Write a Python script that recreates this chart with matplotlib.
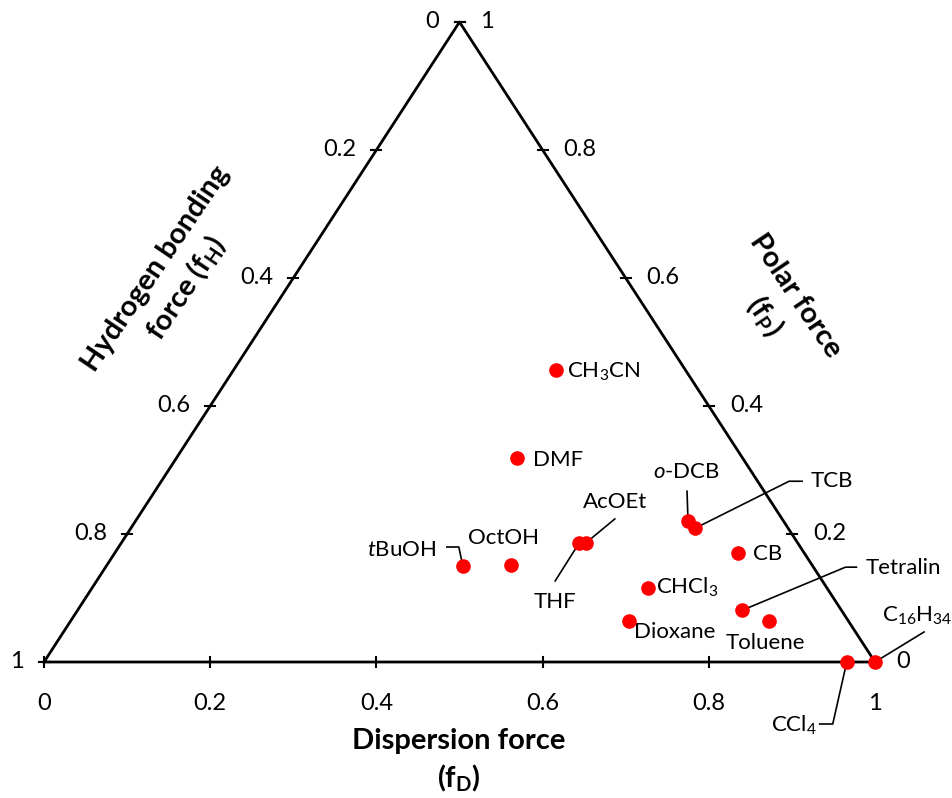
import numpy as np
import matplotlib
matplotlib.use("Agg")
import matplotlib.pyplot as plt

plt.rcParams['font.family'] = ['Lato', 'DejaVu Sans']
plt.rcParams['mathtext.fontset'] = 'custom'
plt.rcParams['mathtext.rm'] = 'Lato'
plt.rcParams['mathtext.it'] = 'Lato:italic'
plt.rcParams['mathtext.bf'] = 'Lato:bold'

# solvent fractions (fD, fP, fH)
solvents = ["CH3CN", "DMF", "tBuOH", "OctOH", "THF", "AcOEt", "o-DCB", "TCB",
            "CB", "CHCl3", "Tetralin", "Toluene", "Dioxane", "CCl4", "C16H34"]
f_D = [0.388, 0.410, 0.429, 0.486, 0.551, 0.559, 0.665, 0.679,
       0.750, 0.669, 0.800, 0.840, 0.672, 0.966, 1.000]
f_P = [0.456, 0.319, 0.150, 0.152, 0.186, 0.186, 0.220, 0.209,
       0.170, 0.116, 0.081, 0.064, 0.064, 0.000, 0.000]
f_H = [0.156, 0.271, 0.421, 0.362, 0.263, 0.255, 0.115, 0.112,
       0.080, 0.215, 0.119, 0.096, 0.264, 0.034, 0.000]

label_text = {
    "CH3CN": r"CH$_\mathregular{3}$CN", "DMF": "DMF", "tBuOH": r"$\it{t}$BuOH",
    "OctOH": "OctOH", "THF": "THF", "AcOEt": "AcOEt", "o-DCB": r"$\it{o}$-DCB",
    "TCB": "TCB", "CB": "CB", "CHCl3": r"CHCl$_\mathregular{3}$", "Tetralin": "Tetralin",
    "Toluene": "Toluene", "Dioxane": "Dioxane", "CCl4": r"CCl$_\mathregular{4}$",
    "C16H34": r"C$_\mathregular{16}$H$_\mathregular{34}$",
}

# label layout: text offset (px, up positive), ha, leader polyline offsets
layout = {
    "CH3CN": ((11, -2), "left", None),
    "DMF": ((16, -2), "left", None),
    "tBuOH": ((-26, 16), "right", [(0, 0), (-4, 19), (-16, 19)]),
    "OctOH": ((-8, 27), "center", None),
    "THF": ((-24, -59), "center", [(0, 0), (-24, -38)]),
    "AcOEt": ((29, 41), "center", [(0, 0), (29, 24)]),
    "o-DCB": ((-2, 49), "center", [(0, 0), (-1, 30)]),
    "TCB": ((116, 47), "left", [(0, 0), (94, 47), (107, 47)]),
    "CB": ((15, -1), "left", None),
    "CHCl3": ((8, 0), "left", None),
    "Tetralin": ((123, 42), "left", [(0, 0), (103, 43), (114, 43)]),
    "Toluene": ((-3, -22), "center", None),
    "Dioxane": ((5, -11), "left", None),
    "CCl4": ((-30, -63), "right", [(0, 0), (-14, -62), (-27, -62)]),
    "C16H34": ((77, 46), "right", [(0, 0), (49, 30)]),
}

ticks = [0, 0.2, 0.4, 0.6, 0.8, 1.0]
tick_labels = ["0", "0.2", "0.4", "0.6", "0.8", "1"]

W, H = 953, 798
fig = plt.figure(figsize=(W / 100, H / 100), dpi=100)
ax = fig.add_axes([44 / W, 136 / H, 831 / W, 640 / H])
ax.set_xlim(0, 1)
ax.set_ylim(0, 1)
ax.axis('off')


def cart(d, p):
    return d + p / 2.0, p


def px_offset(x, y, offs):
    disp = ax.transData.transform((x, y))
    pts = np.array([[disp[0] + dx, disp[1] + dy] for dx, dy in offs])
    return ax.transData.inverted().transform(pts)


# triangle
tri_x = [0, 1, 0.5, 0]
tri_y = [0, 0, 1, 0]
ax.plot(tri_x, tri_y, color='black', lw=2, clip_on=False, zorder=2)

fs = 16
tfs_tick = 17
tl = 5  # tick half length in px
for t, lab in zip(ticks, tick_labels):
    # bottom axis fD
    bx, by = cart(t, 0)
    seg = px_offset(bx, by, [(0, -tl), (0, tl)])
    ax.plot(seg[:, 0], seg[:, 1], color='black', lw=1.5, clip_on=False)
    tp = px_offset(bx, by, [(0, -41)])[0]
    ax.text(tp[0], tp[1], lab, ha='center', va='center', fontsize=tfs_tick)
    # left axis fH (0 at top)
    lx, ly = cart(0, 1 - t)
    seg = px_offset(lx, ly, [(-tl, 0), (tl, 0)])
    ax.plot(seg[:, 0], seg[:, 1], color='black', lw=1.5, clip_on=False)
    tp = px_offset(lx, ly, [(-20, 0)])[0]
    ax.text(tp[0], tp[1], lab, ha='right', va='center', fontsize=tfs_tick)
    # right axis fP (0 at bottom right)
    rx, ry = cart(1 - t, t)
    seg = px_offset(rx, ry, [(-tl, 0), (tl, 0)])
    ax.plot(seg[:, 0], seg[:, 1], color='black', lw=1.5, clip_on=False)
    tp = px_offset(rx, ry, [(21, 0)])[0]
    ax.text(tp[0], tp[1], lab, ha='left', va='center', fontsize=tfs_tick)

# data points
xs = [cart(d, p)[0] for d, p in zip(f_D, f_P)]
ys = [cart(d, p)[1] for d, p in zip(f_D, f_P)]
ax.plot(xs, ys, 'o', color='#ff0000', markersize=9.5, clip_on=False, zorder=4)

for name, x, y in zip(solvents, xs, ys):
    (dx, dy), ha, leader = layout[name]
    tp = px_offset(x, y, [(dx, dy)])[0]
    ax.text(tp[0], tp[1], label_text[name], ha=ha, va='center', fontsize=fs)
    if leader:
        seg = px_offset(x, y, leader)
        ax.plot(seg[:, 0], seg[:, 1], color='black', lw=1.2, clip_on=False, zorder=3)

# axis titles
tfs = 21
fig.text(459 / W, 1 - 761 / H, "Dispersion force\n" + r"(f$_\mathbf{D}$)",
         ha='center', va='center', fontsize=tfs, fontweight='bold', linespacing=1.35)
fig.text(172 / W, 1 - 279 / H, "Hydrogen bonding\n" + r"force (f$_\mathbf{H}$)",
         ha='center', va='center', fontsize=tfs, fontweight='bold', rotation=56,
         rotation_mode='anchor', linespacing=1.3)
fig.text(779 / W, 1 - 307 / H, "Polar force\n" + r"(f$_\mathbf{P}$)",
         ha='center', va='center', fontsize=tfs, fontweight='bold', rotation=-56,
         rotation_mode='anchor', linespacing=1.35)

fig.savefig("out.png", dpi=100, facecolor='white')
